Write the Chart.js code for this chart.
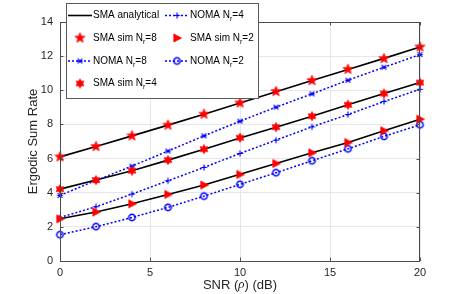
<!DOCTYPE html>
<html>
<head>
<meta charset="utf-8">
<script src="https://cdn.jsdelivr.net/npm/chart.js@4.4.1/dist/chart.umd.min.js"></script>
<style>
  html, body { margin: 0; padding: 0; background: #fff; }
  #wrap { width: 463px; height: 294px; }
</style>
</head>
<body>
<div id="wrap"><canvas id="chart" width="463" height="294"></canvas></div>
<script>
// SNR (dB) on the x axis
const snr = [0, 2, 4, 6, 8, 10, 12, 14, 16, 18, 20];

// analytical SMA curves
const smaNr8 = [6.10, 6.71, 7.33, 7.96, 8.60, 9.25, 9.92, 10.57, 11.22, 11.87, 12.54];
const smaNr4 = [4.21, 4.74, 5.29, 5.91, 6.55, 7.20, 7.84, 8.48, 9.15, 9.81, 10.45];
const smaNr2 = [2.47, 2.87, 3.35, 3.90, 4.45, 5.08, 5.71, 6.34, 6.94, 7.63, 8.31];

// simulated SMA points
const simNr8 = [6.10, 6.71, 7.33, 7.96, 8.60, 9.26, 9.93, 10.57, 11.23, 11.86, 12.54];
const simNr4 = [4.21, 4.74, 5.29, 5.91, 6.55, 7.22, 7.84, 8.48, 9.15, 9.81, 10.45];
const simNr2 = [2.47, 2.87, 3.35, 3.90, 4.45, 5.07, 5.71, 6.34, 6.94, 7.63, 8.31];

// NOMA curves
const nomaNr8 = [3.84, 4.72, 5.56, 6.44, 7.33, 8.19, 9.01, 9.79, 10.59, 11.35, 12.09];
const nomaNr4 = [2.55, 3.18, 3.92, 4.70, 5.48, 6.30, 7.08, 7.86, 8.58, 9.34, 10.06];
const nomaNr2 = [1.54, 2.01, 2.55, 3.14, 3.80, 4.49, 5.17, 5.87, 6.57, 7.30, 7.98];

const xTicks = [0, 5, 10, 15, 20];
const yTicks = [0, 2, 4, 6, 8, 10, 12, 14];

const RED = '#ff0000';
const BLUE = '#0000ff';

// marker images (canvas) for pointStyle and legend
function makeMarker(size, draw) {
    const c = document.createElement('canvas');
    c.width = size;
    c.height = size;
    const g = c.getContext('2d');
    g.translate(size / 2, size / 2);
    draw(g);
    return c;
}

function starPath(g, n, ro, ri) {
    g.beginPath();
    for (let i = 0; i < n * 2; i++) {
        const r = i % 2 === 0 ? ro : ri;
        const a = -Math.PI / 2 + i * Math.PI / n;
        const px = r * Math.cos(a), py = r * Math.sin(a);
        if (i === 0) g.moveTo(px, py); else g.lineTo(px, py);
    }
    g.closePath();
}

const mkStar = makeMarker(13, g => {
    starPath(g, 5, 5.4, 2.3);
    g.fillStyle = RED; g.fill();
    g.strokeStyle = RED; g.lineWidth = 0.7; g.stroke();
});
const mkHex = makeMarker(12, g => {
    starPath(g, 6, 4.6, 2.7);
    g.fillStyle = RED; g.fill();
    g.strokeStyle = RED; g.lineWidth = 0.7; g.stroke();
});
const mkTri = makeMarker(12, g => {
    g.beginPath();
    g.moveTo(4.6, 0);
    g.lineTo(-3.2, -4.1);
    g.lineTo(-3.2, 4.1);
    g.closePath();
    g.fillStyle = RED; g.fill();
    g.strokeStyle = RED; g.lineWidth = 0.7; g.stroke();
});
const mkCircle = makeMarker(11, g => {
    g.beginPath();
    g.arc(0, 0, 3.2, 0, Math.PI * 2);
    g.strokeStyle = BLUE; g.lineWidth = 1.5; g.stroke();
});
const mkPlus = makeMarker(9, g => {
    g.beginPath();
    g.moveTo(-3, 0); g.lineTo(3, 0);
    g.moveTo(0, -3); g.lineTo(0, 3);
    g.strokeStyle = BLUE; g.lineWidth = 1.2; g.stroke();
});
const mkAst = makeMarker(9, g => {
    g.beginPath();
    g.moveTo(-2.4, -2.4); g.lineTo(2.4, 2.4);
    g.moveTo(-2.4, 2.4); g.lineTo(2.4, -2.4);
    g.moveTo(-2.8, 0); g.lineTo(2.8, 0);
    g.strokeStyle = BLUE; g.lineWidth = 1.2; g.stroke();
});

function pts(ys) {
    return snr.map((x, i) => ({ x: x, y: ys[i] }));
}

function smaLine(ys) {
    return { data: pts(ys), borderColor: '#000', borderWidth: 1.6, pointRadius: 0, showLine: true, order: 3, clip: false };
}
function simPoints(ys, marker) {
    return { data: pts(ys), showLine: false, pointStyle: marker, pointRadius: 5, order: 0, clip: false };
}
function nomaLine(ys, marker) {
    return { data: pts(ys), borderColor: BLUE, borderWidth: 1.5, borderDash: [2, 2], showLine: true,
             pointStyle: marker, pointRadius: 4, order: 1, clip: false };
}

const SANS = '"Liberation Sans", Arial, sans-serif';

// axis titles, box, inward ticks and the legend
const decorPlugin = {
    id: 'decor',
    afterDraw(chart) {
        const ctx = chart.ctx;
        const a = chart.chartArea;
        const xs = chart.scales.x, ys = chart.scales.y;
        ctx.save();

        // box and inward ticks
        ctx.strokeStyle = '#4d4d4d';
        ctx.lineWidth = 1;
        ctx.strokeRect(a.left + 0.5, a.top + 0.5, a.right - a.left - 1, a.bottom - a.top);
        ctx.beginPath();
        xTicks.forEach(v => {
            const px = Math.round(xs.getPixelForValue(v)) + 0.5;
            ctx.moveTo(px, a.bottom); ctx.lineTo(px, a.bottom - 3.5);
            ctx.moveTo(px, a.top); ctx.lineTo(px, a.top + 3.5);
        });
        yTicks.forEach(v => {
            const py = Math.round(ys.getPixelForValue(v)) + 0.5;
            ctx.moveTo(a.left, py); ctx.lineTo(a.left + 3.5, py);
            ctx.moveTo(a.right, py); ctx.lineTo(a.right - 3.5, py);
        });
        ctx.stroke();

        // axis titles
        ctx.fillStyle = '#262626';
        ctx.textBaseline = 'middle';
        const cx = (a.left + a.right) / 2;
        const p1 = 'SNR (', p2 = 'ρ', p3 = ') (dB)';
        ctx.font = '13px ' + SANS;
        const w1 = ctx.measureText(p1).width, w3 = ctx.measureText(p3).width;
        ctx.font = 'italic 13px "Liberation Serif", serif';
        const w2 = ctx.measureText(p2).width;
        const sx = cx - (w1 + w2 + w3) / 2;
        ctx.textAlign = 'left';
        ctx.font = '13px ' + SANS;
        ctx.fillText(p1, sx, 285);
        ctx.font = 'italic 13px "Liberation Serif", serif';
        ctx.fillText(p2, sx + w1, 285);
        ctx.font = '13px ' + SANS;
        ctx.fillText(p3, sx + w1 + w2, 285);

        ctx.save();
        ctx.translate(33, (a.top + a.bottom) / 2);
        ctx.rotate(-Math.PI / 2);
        ctx.textAlign = 'center';
        ctx.fillText('Ergodic Sum Rate', 0, 0);
        ctx.restore();

        // legend
        const L = 66, T = 3, W = 192, H = 95;
        ctx.fillStyle = '#fff';
        ctx.fillRect(L, T, W, H);
        ctx.strokeStyle = '#5a5a5a';
        ctx.lineWidth = 1;
        ctx.strokeRect(L + 0.5, T + 0.5, W, H);

        const rows = [15.5, 38, 61, 83.5];
        const cols = [68, 165];
        const entries = [
            { c: 0, r: 0, line: 'solid', label: 'SMA analytical' },
            { c: 1, r: 0, line: 'dot', marker: mkPlus, label: 'NOMA N', sub: 'r', tail: '=4' },
            { c: 0, r: 1, marker: mkStar, label: 'SMA sim N', sub: 'r', tail: '=8' },
            { c: 1, r: 1, marker: mkTri, label: 'SMA sim N', sub: 'r', tail: '=2' },
            { c: 0, r: 2, line: 'dot', marker: mkAst, label: 'NOMA N', sub: 'r', tail: '=8' },
            { c: 1, r: 2, line: 'dot', marker: mkCircle, label: 'NOMA N', sub: 'r', tail: '=2' },
            { c: 0, r: 3, marker: mkHex, label: 'SMA sim N', sub: 'r', tail: '=4' }
        ];
        entries.forEach(e => {
            const x0 = cols[e.c], y0 = rows[e.r];
            if (e.line) {
                ctx.beginPath();
                ctx.setLineDash(e.line === 'dot' ? [2, 2] : []);
                ctx.strokeStyle = e.line === 'dot' ? BLUE : '#000';
                ctx.lineWidth = e.line === 'dot' ? 1.5 : 1.6;
                ctx.moveTo(x0, y0); ctx.lineTo(x0 + 24, y0);
                ctx.stroke();
                ctx.setLineDash([]);
            }
            if (e.marker) {
                ctx.drawImage(e.marker, x0 + 12 - e.marker.width / 2, y0 - e.marker.height / 2);
            }
            let tx = x0 + 25;
            ctx.fillStyle = '#000';
            ctx.textAlign = 'left';
            ctx.textBaseline = 'middle';
            ctx.font = '10px ' + SANS;
            ctx.fillText(e.label, tx, y0);
            if (e.sub) {
                tx += ctx.measureText(e.label).width;
                ctx.font = '7px ' + SANS;
                ctx.fillText(e.sub, tx, y0 + 4);
                tx += ctx.measureText(e.sub).width;
                ctx.font = '10px ' + SANS;
                ctx.fillText(e.tail, tx, y0);
            }
        });
        ctx.restore();
    }
};

new Chart(document.getElementById('chart').getContext('2d'), {
    type: 'scatter',
    data: {
        datasets: [
            smaLine(smaNr8), smaLine(smaNr4), smaLine(smaNr2),
            nomaLine(nomaNr8, mkAst), nomaLine(nomaNr4, mkPlus), nomaLine(nomaNr2, mkCircle),
            simPoints(simNr8, mkStar), simPoints(simNr4, mkHex), simPoints(simNr2, mkTri)
        ]
    },
    options: {
        responsive: false,
        animation: false,
        devicePixelRatio: 1,
        layout: { padding: { top: 22, right: 43, left: 0, bottom: 0 } },
        plugins: { legend: { display: false }, tooltip: { enabled: false } },
        scales: {
            x: {
                type: 'linear', min: 0, max: 20,
                afterBuildTicks: s => { s.ticks = xTicks.map(v => ({ value: v })); },
                afterFit: s => { s.height = 33; },
                grid: { color: '#e6e6e6', drawTicks: false },
                border: { display: false },
                ticks: { padding: 5, color: '#262626', font: { family: SANS, size: 11 } }
            },
            y: {
                type: 'linear', min: 0, max: 14,
                afterBuildTicks: s => { s.ticks = yTicks.map(v => ({ value: v })); },
                afterFit: s => { s.width = 60; },
                grid: { color: '#e6e6e6', drawTicks: false },
                border: { display: false },
                ticks: { padding: 7, color: '#262626', font: { family: SANS, size: 11 } }
            }
        }
    },
    plugins: [decorPlugin]
});
</script>
</body>
</html>
